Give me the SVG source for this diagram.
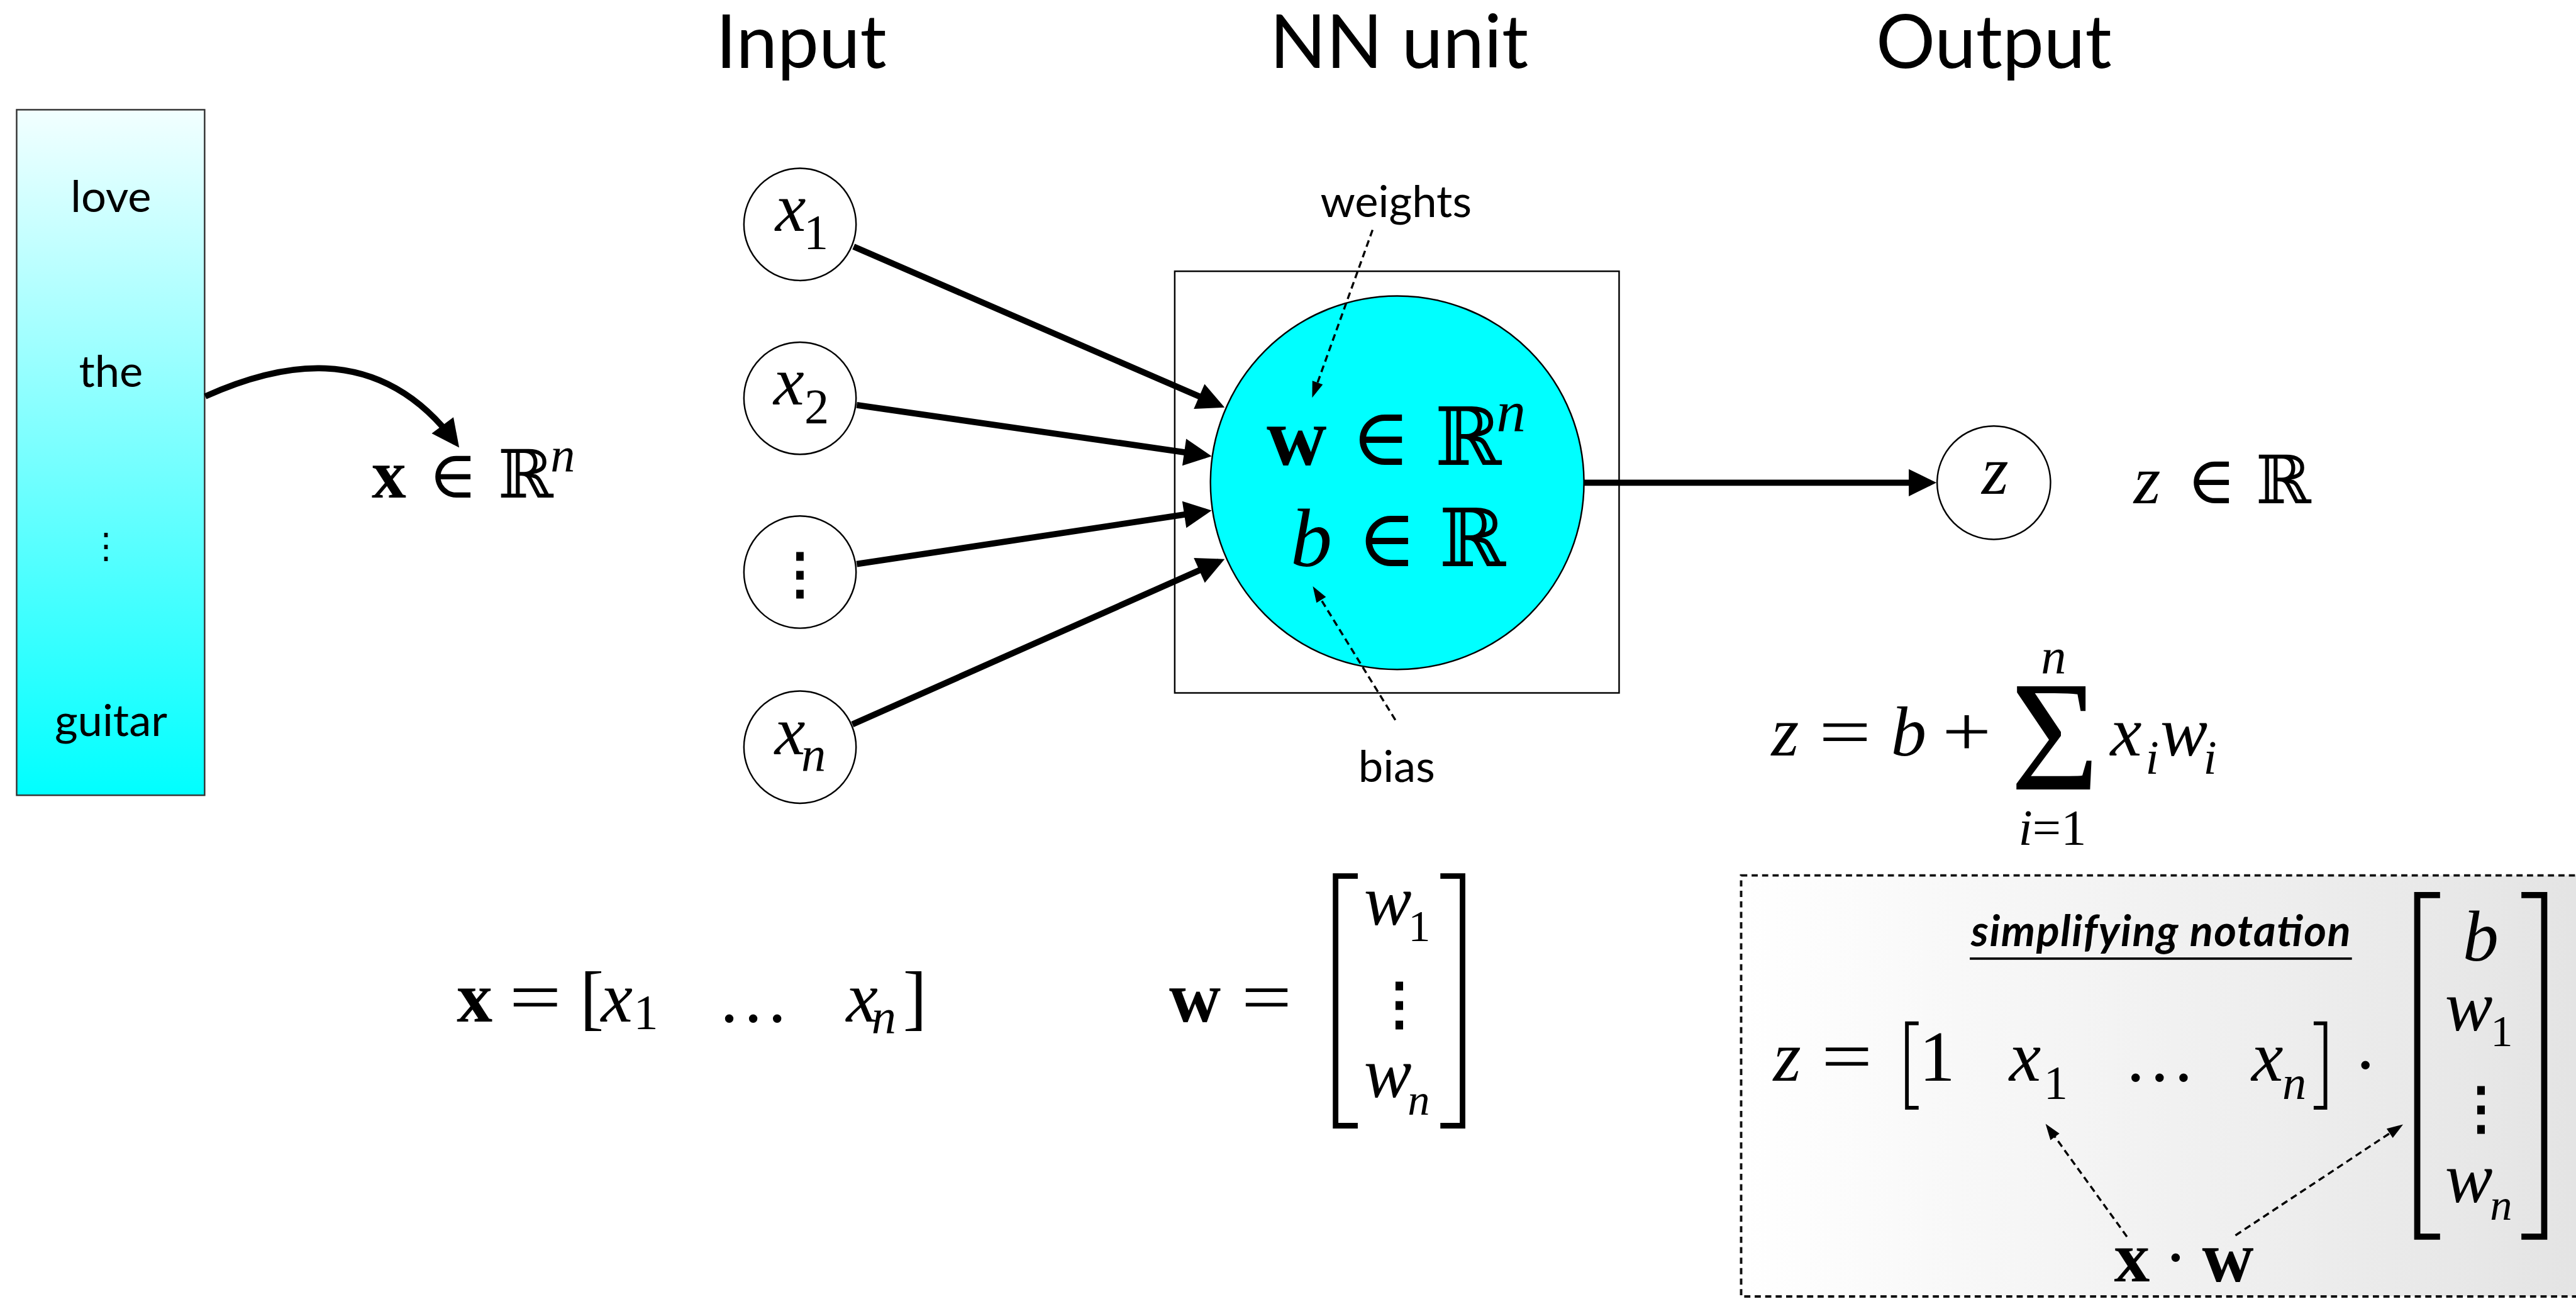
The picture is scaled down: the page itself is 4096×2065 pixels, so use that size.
<svg xmlns="http://www.w3.org/2000/svg" width="4096" height="2065" viewBox="0 0 4096 2065">
  <defs>
    <linearGradient id="tokenFill" x1="0" y1="0" x2="0" y2="1">
      <stop offset="0" stop-color="#f2ffff"/>
      <stop offset="1" stop-color="#00ffff"/>
    </linearGradient>
    <linearGradient id="noteFill" gradientUnits="userSpaceOnUse" x1="2825" y1="0" x2="4179" y2="0">
      <stop offset="0" stop-color="#ffffff"/>
      <stop offset="1" stop-color="#e4e4e4"/>
    </linearGradient>
    <marker id="head" markerUnits="userSpaceOnUse" markerWidth="60" markerHeight="60" refX="0" refY="0" orient="auto" style="overflow:visible">
      <path d="M10,0 L-35,-22 L-35,22 Z" fill="#000"/>
    </marker>
    <marker id="headSmall" markerUnits="userSpaceOnUse" markerWidth="30" markerHeight="30" refX="0" refY="0" orient="auto" style="overflow:visible">
      <path d="M6,0 L-20,-9 L-20,9 Z" fill="#000"/>
    </marker>
    <style>
      .sans { font-family: Lato, 'Open Sans', sans-serif; fill: #000; }
      .title { font-size: 120px; text-anchor: middle; }
      .word { font-size: 72px; text-anchor: middle; }
      .mi { font-family: 'Liberation Serif', 'Times New Roman', serif; font-style: italic; fill: #000; }
      .mb { font-family: 'Liberation Serif', 'Times New Roman', serif; font-weight: bold; fill: #000; }
      .mr { font-family: 'Liberation Serif', 'Times New Roman', serif; fill: #000; }
      .sym { font-family: 'DejaVu Serif', serif; fill: #000; }
      .vdots { font-family: 'DejaVu Serif', serif; font-weight: bold; text-anchor: middle; fill: #000; }
      .thick { fill: none; stroke: #000; stroke-width: 10; marker-end: url(#head); }
      .dash { fill: none; stroke: #000; stroke-width: 3.5; stroke-dasharray: 11 7; marker-end: url(#headSmall); }
      .node { fill: #fff; stroke: #000; stroke-width: 2.5; }
      .bracket { fill: none; stroke: #000; stroke-linejoin: miter; stroke-linecap: butt; }
    </style>
  </defs>

  <g transform="scale(0.98)">
    <!-- column headings -->
    <g id="headings" class="sans title">
      <text x="1300" y="110">Input</text>
      <text x="2270" y="110">NN unit</text>
      <text x="3235" y="110">Output</text>
    </g>

    <!-- token column -->
    <g id="tokens">
      <rect x="27" y="178" width="305" height="1112" fill="url(#tokenFill)" stroke="#333" stroke-width="2.5"/>
      <text class="sans word" x="180" y="344">love</text>
      <text class="sans word" x="180" y="628">the</text>
      <text class="sym" x="172" y="905" font-size="56" text-anchor="middle">⋮</text>
      <text class="sans word" x="180" y="1194">guitar</text>
    </g>

    <!-- x in R^n -->
    <g id="input-space">
      <text class="mb" x="603" y="807" font-size="112">x</text>
      <text class="sym" x="695" y="807" font-size="108">∈</text>
      <text class="sym" x="808" y="807" font-size="108">ℝ</text>
      <text class="mi" x="893" y="765" font-size="80">n</text>
    </g>

    <!-- input units -->
    <g id="input-x1">
      <circle class="node" cx="1298" cy="364" r="91"/>
      <text class="mi" x="1258" y="374" font-size="112">x</text>
      <text class="mr" x="1304" y="403" font-size="80">1</text>
    </g>
    <g id="input-x2">
      <circle class="node" cx="1298" cy="646" r="91"/>
      <text class="mi" x="1255" y="656" font-size="112">x</text>
      <text class="mr" x="1305" y="686" font-size="80">2</text>
    </g>
    <g id="input-dots">
      <circle class="node" cx="1298" cy="928" r="91"/>
      <text class="vdots" x="1298" y="961" font-size="90">⋮</text>
    </g>
    <g id="input-xn">
      <circle class="node" cx="1298" cy="1212" r="91"/>
      <text class="mi" x="1257" y="1223" font-size="112">x</text>
      <text class="mi" x="1300" y="1251" font-size="80">n</text>
    </g>

    <!-- neural unit -->
    <g id="nn-unit">
      <rect x="1906" y="440" width="721" height="684" fill="none" stroke="#000" stroke-width="2.5"/>
      <circle cx="2267" cy="783" r="303" fill="#00ffff" stroke="#000" stroke-width="2.5"/>
      <text class="mb" x="2055" y="754" font-size="135">w</text>
      <text class="sym" x="2192" y="754" font-size="130">∈</text>
      <text class="sym" x="2328" y="754" font-size="130">ℝ</text>
      <text class="mi" x="2428" y="700" font-size="95">n</text>
      <text class="mi" x="2094" y="918" font-size="135">b</text>
      <text class="sym" x="2202" y="918" font-size="130">∈</text>
      <text class="sym" x="2335" y="918" font-size="130">ℝ</text>
    </g>
    <g id="label-weights">
      <text class="sans word" x="2265" y="352">weights</text>
    </g>
    <g id="label-bias">
      <text class="sans word" x="2266" y="1268">bias</text>
    </g>

    <!-- output unit -->
    <g id="output-z">
      <circle class="node" cx="3235" cy="783" r="92"/>
      <text class="mi" x="3237" y="801" font-size="112" text-anchor="middle">z</text>
    </g>
    <g id="output-space">
      <text class="mi" x="3462" y="816" font-size="112">z</text>
      <text class="sym" x="3548" y="816" font-size="108">∈</text>
      <text class="sym" x="3660" y="816" font-size="108">ℝ</text>
    </g>

    <!-- z = b + sum x_i w_i -->
    <g id="sum-formula">
      <text class="mi" x="2874" y="1225" font-size="115">z</text>
      <text class="mr" x="2951" y="1225" font-size="115" textLength="85" lengthAdjust="spacingAndGlyphs">=</text>
      <text class="mi" x="3068" y="1225" font-size="115">b</text>
      <text class="mr" x="3151" y="1225" font-size="115" textLength="80" lengthAdjust="spacingAndGlyphs">+</text>
      <text class="mr" x="3262" y="1281" font-size="255" textLength="144" lengthAdjust="spacingAndGlyphs">Σ</text>
      <text class="mi" x="3332" y="1092" font-size="82" text-anchor="middle">n</text>
      <text class="mr" x="3330" y="1370" font-size="82" text-anchor="middle"><tspan class="mi">i</tspan>=1</text>
      <text class="mi" x="3424" y="1225" font-size="115">x</text>
      <text class="mi" x="3481" y="1255" font-size="78">i</text>
      <text class="mi" x="3505" y="1225" font-size="115">w</text>
      <text class="mi" x="3575" y="1255" font-size="78">i</text>
    </g>

    <!-- x row vector -->
    <g id="x-vector">
      <text class="mb" x="741" y="1657" font-size="116">x</text>
      <text class="mr" x="826" y="1657" font-size="116" textLength="85" lengthAdjust="spacingAndGlyphs">=</text>
      <text class="mr" x="941" y="1657" font-size="116">[</text>
      <text class="mi" x="975" y="1657" font-size="116">x</text>
      <text class="mr" x="1028" y="1668" font-size="80">1</text>
      <text class="mr" x="1164" y="1657" font-size="116">…</text>
      <text class="mi" x="1373" y="1657" font-size="116">x</text>
      <text class="mi" x="1414" y="1677" font-size="80">n</text>
      <text class="mr" x="1465" y="1657" font-size="116">]</text>
    </g>

    <!-- w column vector -->
    <g id="w-vector">
      <text class="mb" x="1897" y="1657" font-size="116">w</text>
      <text class="mr" x="2014" y="1657" font-size="116" textLength="82" lengthAdjust="spacingAndGlyphs">=</text>
      <path class="bracket" stroke-width="9" d="M2203,1421 H2167 V1826 H2203"/>
      <path class="bracket" stroke-width="9" d="M2337,1421 H2373 V1826 H2337"/>
      <text class="mi" x="2213" y="1500" font-size="116">w</text>
      <text class="mr" x="2285" y="1527" font-size="72">1</text>
      <text class="vdots" x="2270" y="1660" font-size="92">⋮</text>
      <text class="mi" x="2213" y="1780" font-size="116">w</text>
      <text class="mi" x="2284" y="1808" font-size="72">n</text>
    </g>

    <!-- simplified notation panel -->
    <g id="notation-panel">
      <rect x="2825" y="1420" width="1400" height="683" fill="url(#noteFill)" stroke="#111" stroke-width="4" stroke-dasharray="10 7"/>
      <text class="sans" x="3198" y="1535" font-size="70" font-style="italic" font-weight="bold" textLength="616" lengthAdjust="spacing">simplifying notation</text>
      <line x1="3196" y1="1555" x2="3816" y2="1555" stroke="#000" stroke-width="4"/>

      <text class="mi" x="2877" y="1753" font-size="116">z</text>
      <text class="mr" x="2955" y="1753" font-size="116" textLength="83" lengthAdjust="spacingAndGlyphs">=</text>
      <path class="bracket" stroke-width="6" d="M3113,1660 H3094 V1797 H3113"/>
      <text class="mr" x="3114" y="1753" font-size="116">1</text>
      <text class="mi" x="3260" y="1753" font-size="116">x</text>
      <text class="mr" x="3316" y="1783" font-size="78">1</text>
      <text class="mr" x="3446" y="1753" font-size="116">…</text>
      <text class="mi" x="3653" y="1753" font-size="116">x</text>
      <text class="mi" x="3703" y="1783" font-size="78">n</text>
      <path class="bracket" stroke-width="6" d="M3754,1660 H3773 V1797 H3754"/>
      <text class="mr" x="3838" y="1766" font-size="116" text-anchor="middle">·</text>

      <path class="bracket" stroke-width="10" d="M3959,1452 H3922 V2006 H3959"/>
      <path class="bracket" stroke-width="10" d="M4091,1452 H4128 V2006 H4091"/>
      <text class="mi" x="3996" y="1558" font-size="116">b</text>
      <text class="mi" x="3967" y="1671" font-size="116">w</text>
      <text class="mr" x="4041" y="1697" font-size="72">1</text>
      <text class="vdots" x="4025" y="1830" font-size="92">⋮</text>
      <text class="mi" x="3967" y="1950" font-size="116">w</text>
      <text class="mi" x="4040" y="1979" font-size="72">n</text>

      <text class="mb" x="3430" y="2079" font-size="116">x</text>
      <text class="mr" x="3530" y="2079" font-size="116" text-anchor="middle">·</text>
      <text class="mb" x="3573" y="2079" font-size="116">w</text>
    </g>

    <!-- connectors -->
    <g id="connectors">
      <path class="thick" stroke-width="9" d="M333,643 C440,595 610,545 739,718"/>
      <path class="thick" d="M1385,400 L1977.8,657"/>
      <path class="thick" d="M1390,657 L1956.1,738.6"/>
      <path class="thick" d="M1390,915 L1956.1,829.5"/>
      <path class="thick" d="M1383,1175 L1977.9,911"/>
      <path class="thick" d="M2570,783 L3132,783"/>
      <path class="dash" d="M2227,373 L2131,639.4"/>
      <path class="dash" d="M2264,1168 L2133.2,956.1"/>
      <path class="dash" d="M3451,2006 L3322.5,1827.9"/>
      <path class="dash" d="M3627,2004 L3894,1827.3"/>
    </g>
  </g>
</svg>
